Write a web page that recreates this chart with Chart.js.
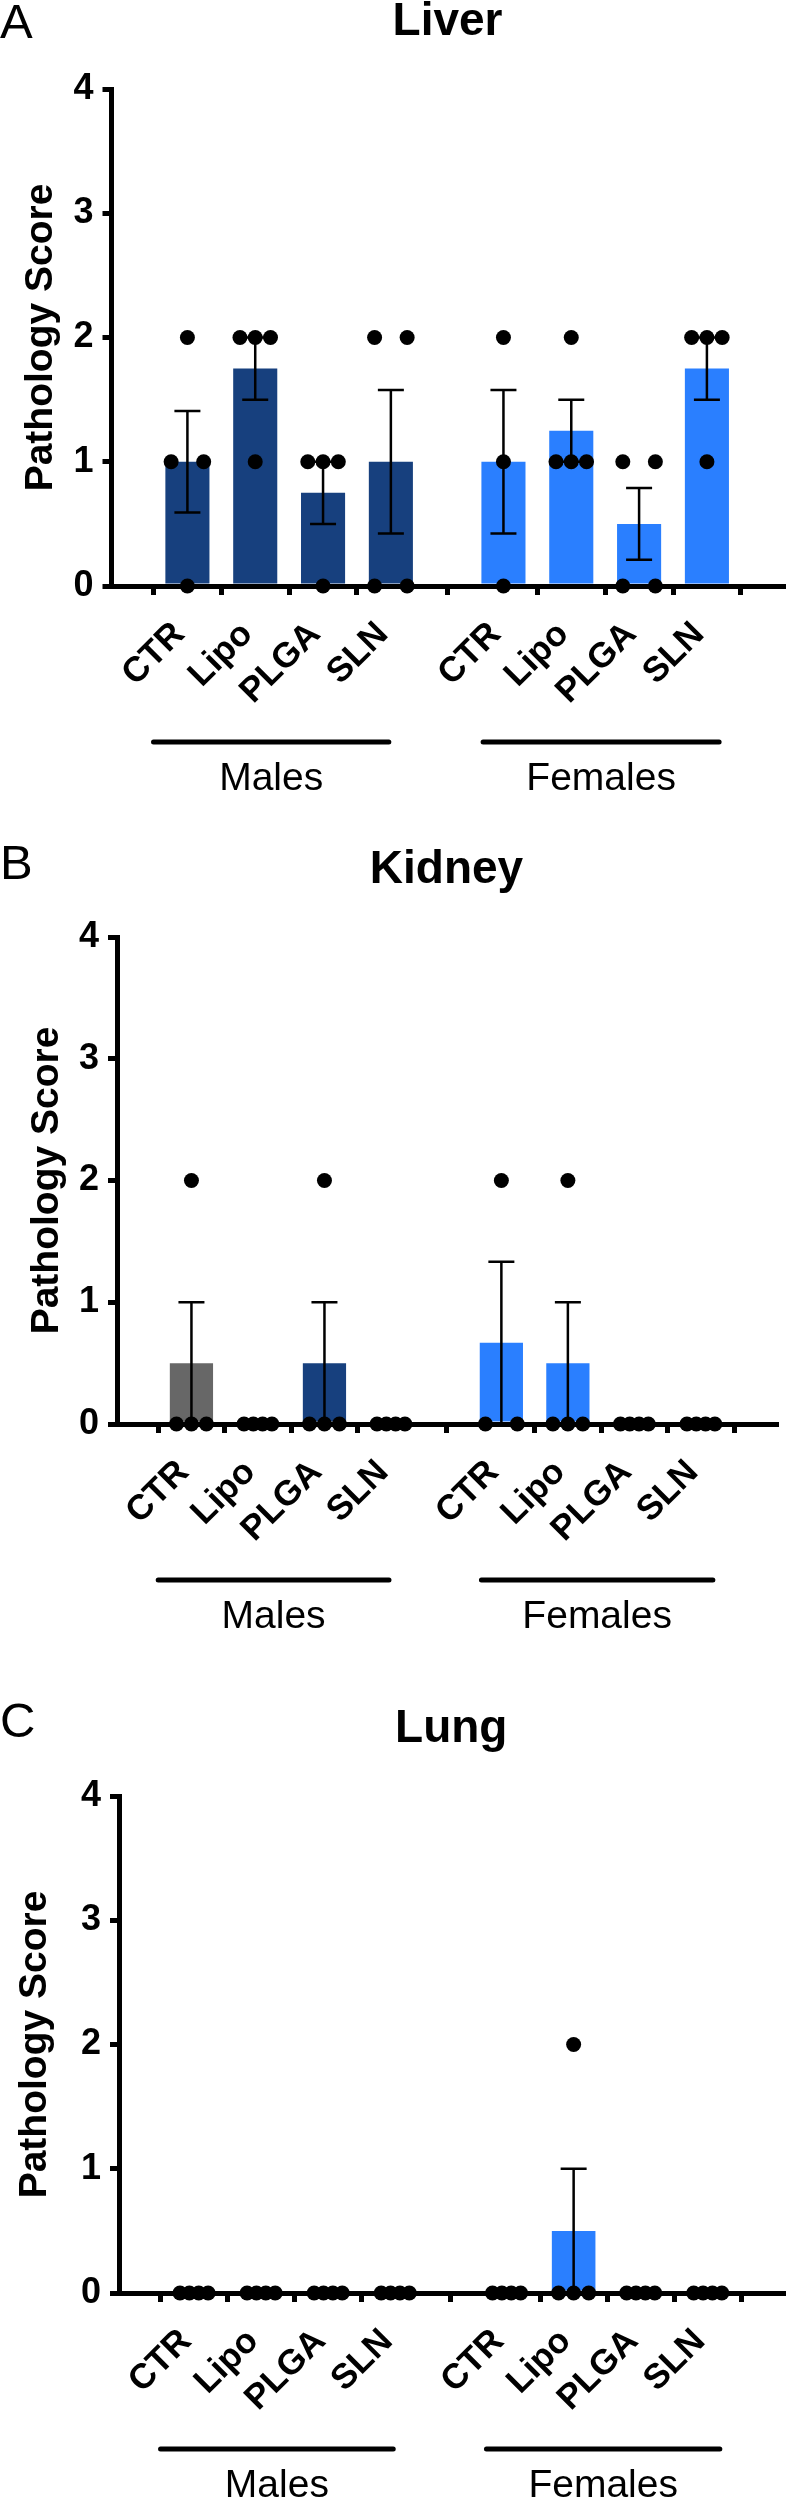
<!DOCTYPE html>
<html lang="en">
<head>
  <meta charset="UTF-8">
  <title>Pathology Score – Liver, Kidney, Lung</title>
  <script src="https://cdn.jsdelivr.net/npm/chart.js"></script>
  <style>
    body {
      margin: 0;
      background: #fff;
    }
    .panel {
      position: absolute;
      left: 0;
      width: 791px;
    }
  </style>
</head>
<body>
<div class="panel" style="top:0px;height:820px;"><canvas id="liverChart"></canvas></div>
<div class="panel" style="top:820px;height:850px;"><canvas id="kidneyChart"></canvas></div>
<div class="panel" style="top:1670px;height:828px;"><canvas id="lungChart"></canvas></div>

<script>
  // categories along the x axis, males first then females
  const categories = ["CTR", "Lipo", "PLGA", "SLN", "CTR", "Lipo", "PLGA", "SLN"];
  const groupNames = ["Males", "Females"];
  const groupOf = [0, 0, 0, 0, 1, 1, 1, 1];
  const yTicks = [0, 1, 2, 3, 4];

  // individual animal scores per category
  const liverScores = [[2, 1, 1, 0], [2, 2, 2, 1], [1, 1, 1, 0], [2, 2, 0, 0],
                       [2, 1, 0], [2, 1, 1, 1], [1, 1, 0, 0], [2, 2, 2, 1]];
  const kidneyScores = [[2, 0, 0, 0], [0, 0, 0, 0], [2, 0, 0, 0], [0, 0, 0, 0],
                        [2, 0, 0], [2, 0, 0, 0], [0, 0, 0, 0], [0, 0, 0, 0]];
  const lungScores = [[0, 0, 0, 0], [0, 0, 0, 0], [0, 0, 0, 0], [0, 0, 0, 0],
                      [0, 0, 0, 0], [2, 0, 0, 0], [0, 0, 0, 0], [0, 0, 0, 0]];

  const DARK = "#17407e", LIGHT = "#2a7fff", GRAY = "#676767";
  const FONT = "'Liberation Sans', Arial, Helvetica, sans-serif";
  Chart.defaults.font.family = FONT;

  const femaleStart = 4.66;           // x position of the first female bar
  const groupSpan = [[-0.5, 2.97], [4.36, 7.84]];
  // horizontal spread of equal scores inside a bar
  const spread = { 1: [0], 2: [-0.24, 0.24], 3: [-0.225, 0, 0.225], 4: [-0.21, -0.07, 0.07, 0.21] };

  function catPos(i) {
    return groupOf[i] ? femaleStart + (i - 4) : i;
  }
  function mean(a) {
    return a.reduce((s, v) => s + v, 0) / a.length;
  }
  function sem(a) {
    const m = mean(a);
    const sd = Math.sqrt(a.reduce((s, v) => s + (v - m) * (v - m), 0) / (a.length - 1));
    return sd / Math.sqrt(a.length);
  }
  function dotPoints(scores) {
    const pts = [];
    scores.forEach((vals, i) => {
      const counts = {};
      vals.forEach(v => counts[v] = (counts[v] || 0) + 1);
      Object.keys(counts).forEach(k => {
        spread[counts[k]].forEach(o => pts.push({ x: catPos(i) + o, y: +k }));
      });
    });
    return pts;
  }

  const decor = {
    id: "decor",
    // error bars (mean ± SEM) go over the bars, under the dots
    afterDatasetDraw(chart, args, opts) {
      if (args.index !== 0) return;
      const ctx = chart.ctx, y = chart.scales.y;
      ctx.save();
      ctx.strokeStyle = "#000";
      ctx.lineWidth = 2.5;
      args.meta.data.forEach((bar, i) => {
        const vals = opts.scores[i];
        const m = mean(vals), e = sem(vals);
        if (!(e > 0)) return;
        const top = y.getPixelForValue(m + e), bot = y.getPixelForValue(m - e);
        ctx.beginPath();
        ctx.moveTo(bar.x, top); ctx.lineTo(bar.x, bot);
        ctx.moveTo(bar.x - 13, top); ctx.lineTo(bar.x + 13, top);
        ctx.moveTo(bar.x - 13, bot); ctx.lineTo(bar.x + 13, bot);
        ctx.stroke();
      });
      ctx.restore();
    },
    afterDraw(chart, args, opts) {
      const ctx = chart.ctx, area = chart.chartArea, x = chart.scales.x;
      ctx.save();
      ctx.fillStyle = "#000";
      // panel letter
      ctx.font = "49px " + FONT;
      ctx.textAlign = "left";
      ctx.fillText(opts.letter, 0, opts.letterY);
      // title
      ctx.font = "bold 46px " + FONT;
      ctx.textAlign = "center";
      ctx.fillText(opts.title, (area.left + area.right) / 2, area.top - 54);
      // y axis title
      ctx.save();
      ctx.translate(opts.yTitleX, (area.top + area.bottom) / 2);
      ctx.rotate(-Math.PI / 2);
      ctx.font = "bold 39px " + FONT;
      ctx.fillText("Pathology Score", 0, 0);
      ctx.restore();
      // group bars and names
      const lineY = area.bottom + 156;
      ctx.lineWidth = 5;
      ctx.lineCap = "round";
      ctx.strokeStyle = "#000";
      ctx.font = "39px " + FONT;
      groupSpan.forEach((span, g) => {
        const x0 = x.getPixelForValue(span[0]), x1 = x.getPixelForValue(span[1]);
        ctx.beginPath();
        ctx.moveTo(x0, lineY); ctx.lineTo(x1, lineY);
        ctx.stroke();
        ctx.fillText(groupNames[g], (x0 + x1) / 2, lineY + 47.5);
      });
      ctx.restore();
    }
  };

  function drawPanel(id, scores, colors, p) {
    const ctx = document.getElementById(id).getContext("2d");
    return new Chart(ctx, {
      type: "bar",
      data: {
        datasets: [{
          type: "bar",
          data: scores.map((s, i) => ({ x: catPos(i), y: mean(s) })),
          backgroundColor: colors,
          borderWidth: 0,
          barPercentage: 0.65,
          categoryPercentage: 1,
          order: 2
        }, {
          type: "scatter",
          data: dotPoints(scores),
          pointRadius: 7.5,
          pointBackgroundColor: "#000",
          pointBorderWidth: 0,
          clip: false,
          order: 1
        }]
      },
      options: {
        responsive: true,
        maintainAspectRatio: false,
        animation: false,
        events: [],
        layout: { padding: { top: p.top - p.canvasTop, right: 791 - p.right, bottom: 0, left: 0 } },
        plugins: {
          legend: { display: false },
          tooltip: { enabled: false },
          decor: { scores: scores, letter: p.letter, title: p.title, letterY: p.letterY - p.canvasTop, yTitleX: p.yTitleX }
        },
        scales: {
          x: {
            type: "linear",
            min: -0.5,
            max: 8.17,
            bounds: "data",
            z: 1,
            afterFit: s => { s.height = p.canvasH - (p.bottom - p.canvasTop); },
            afterBuildTicks: s => { s.ticks = categories.map((c, i) => ({ value: catPos(i) })); },
            ticks: {
              callback: (v, i) => categories[i],
              autoSkip: false,
              minRotation: 45,
              maxRotation: 45,
              padding: 19,
              labelOffset: -8,
              color: "#000",
              font: { size: 35, weight: "bold" }
            },
            grid: { drawOnChartArea: false, tickLength: 9, lineWidth: 5, color: "#000" },
            border: { width: 5, color: "#000" }
          },
          y: {
            min: 0,
            max: 4,
            z: 1,
            afterFit: s => { s.width = p.left; },
            afterBuildTicks: s => { s.ticks = yTicks.map(v => ({ value: v })); },
            ticks: { padding: 9, color: "#000", font: { size: 36, weight: "bold" } },
            grid: { drawOnChartArea: false, tickLength: 9, lineWidth: 5, color: "#000" },
            border: { width: 5, color: "#000" }
          }
        }
      },
      plugins: [decor]
    });
  }

  const males = [DARK, DARK, DARK, DARK], females = [LIGHT, LIGHT, LIGHT, LIGHT];

  drawPanel("liverChart", liverScores, males.concat(females),
    { canvasTop: 0, canvasH: 820, top: 89, bottom: 586, left: 111.5, right: 789,
      letter: "A", title: "Liver", letterY: 38, yTitleX: 51.5 });
  drawPanel("kidneyChart", kidneyScores, [GRAY, DARK, DARK, DARK].concat(females),
    { canvasTop: 820, canvasH: 850, top: 937, bottom: 1424, left: 117, right: 776,
      letter: "B", title: "Kidney", letterY: 879, yTitleX: 58 });
  drawPanel("lungChart", lungScores, males.concat(females),
    { canvasTop: 1670, canvasH: 828, top: 1796, bottom: 2293, left: 119, right: 791,
      letter: "C", title: "Lung", letterY: 1737, yTitleX: 46 });
</script>
</body>
</html>
